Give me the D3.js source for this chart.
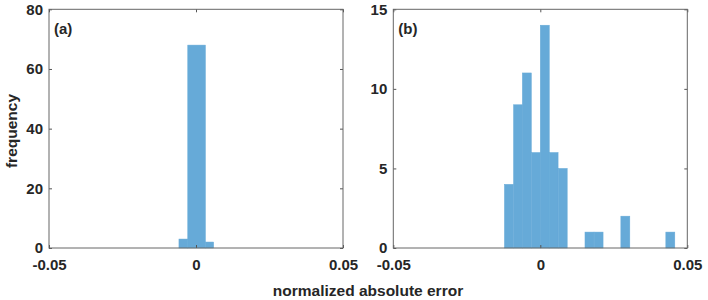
<!DOCTYPE html>
<html>
<head>
<meta charset="utf-8">
<script src="https://cdn.jsdelivr.net/npm/d3@7"></script>
<style>
  body { margin: 0; background: #fff; }
  text { font-family: "Liberation Sans", Arial, sans-serif; font-weight: bold; fill: #262626; }
</style>
</head>
<body>
<script>
// panel (a)
const binLeftA = [-0.0058, -0.0028, 0.0032];
const binRightA = [-0.0028, 0.0032, 0.0060];
const countsA = [3, 68, 2];
const yTicksA = [0, 20, 40, 60, 80];

// panel (b)
const binLeftB = [-0.0122, -0.0091, -0.0061, -0.0030, 0, 0.0030, 0.0061, 0.0152, 0.0183, 0.0274, 0.0427];
const binWidthB = 0.00305;
const countsB = [4, 9, 11, 6, 14, 6, 5, 1, 1, 2, 1];
const yTicksB = [0, 5, 10, 15];

const xTicks = [-0.05, 0, 0.05];
const xTickLabels = ["-0.05", "0", "0.05"];

const W = 708, H = 300;
const plotTop = 9.3, plotBottom = 248, pw = 294;

var svg = d3.select("body").append("svg")
    .attr("width", W)
    .attr("height", H);

function panel(left, bins, yMax, yTicks, tag) {
  var h = plotBottom - plotTop;
  var x = d3.scaleLinear().domain([-0.05, 0.05]).range([0, pw]);
  var y = d3.scaleLinear().domain([0, yMax]).range([h, 0]);

  var g = svg.append("g")
      .attr("transform", "translate(" + left + "," + plotTop + ")");

  // bars (stroke in fill colour hides seams between neighbouring bins)
  g.selectAll("rect.bar")
    .data(bins)
    .enter().append("rect")
    .attr("class", "bar")
    .attr("x", function(d) { return x(d.x0); })
    .attr("y", function(d) { return y(d.n); })
    .attr("width", function(d) { return x(d.x1) - x(d.x0); })
    .attr("height", function(d) { return h - y(d.n); })
    .attr("fill", "#66aad8")
    .attr("stroke", "#66aad8")
    .attr("stroke-width", 0.5);

  var fmt = function(d, i) { return xTickLabels[i]; };

  var axes = [
    g.append("g").attr("transform", "translate(0," + h + ")")
      .call(d3.axisBottom(x).tickValues(xTicks).tickSize(-3).tickPadding(11).tickFormat(fmt)),
    g.append("g")
      .call(d3.axisTop(x).tickValues(xTicks).tickSize(-3).tickFormat("")),
    g.append("g")
      .call(d3.axisLeft(y).tickValues(yTicks).tickSize(-3).tickPadding(6).tickFormat(d3.format("d"))),
    g.append("g").attr("transform", "translate(" + pw + ",0)")
      .call(d3.axisRight(y).tickValues(yTicks).tickSize(-3).tickFormat(""))
  ];
  axes.forEach(function(a) {
    a.select(".domain").remove();
    a.selectAll("line").attr("stroke", "#555");
    a.selectAll("text").attr("font-size", 15).attr("font-family", null).attr("fill", null);
  });

  // box
  g.append("rect")
    .attr("width", pw).attr("height", h)
    .attr("fill", "none").attr("stroke", "#666").attr("stroke-width", 1);

  g.append("text")
    .attr("x", 5).attr("y", 24.5)
    .attr("font-size", 15)
    .text(tag);
}

panel(49, binLeftA.map(function(v, i) { return {x0: v, x1: binRightA[i], n: countsA[i]}; }), 80, yTicksA, "(a)");
panel(393.3, binLeftB.map(function(v, i) { return {x0: v, x1: v + binWidthB, n: countsB[i]}; }), 15, yTicksB, "(b)");

svg.append("text")
  .attr("x", 368).attr("y", 295.5)
  .attr("text-anchor", "middle")
  .attr("font-size", 15.5)
  .text("normalized absolute error");

svg.append("text")
  .attr("transform", "translate(16.5,131) rotate(-90)")
  .attr("text-anchor", "middle")
  .attr("font-size", 15.5)
  .text("frequency");
</script>
</body>
</html>
